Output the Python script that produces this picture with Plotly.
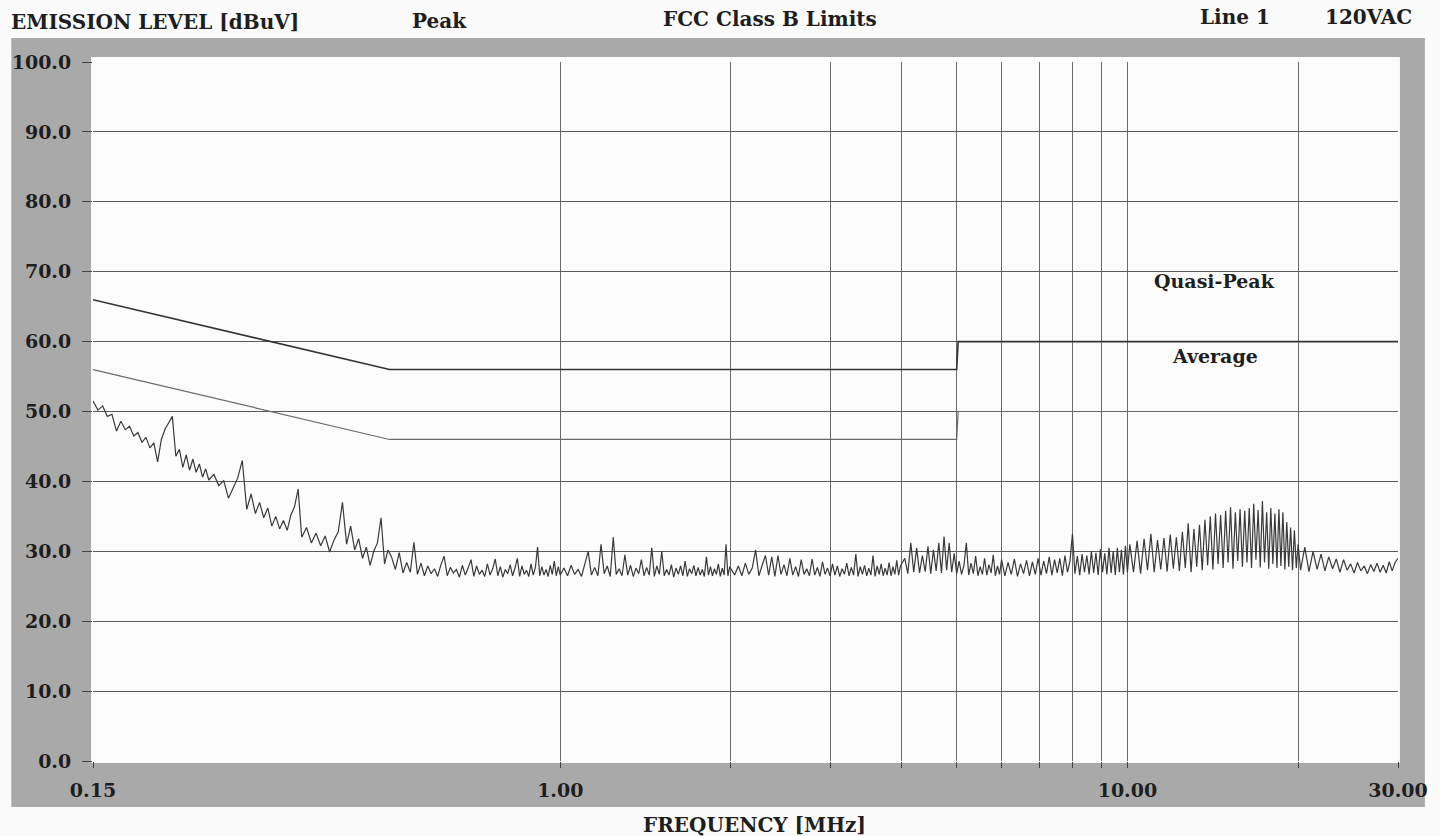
import math
import plotly.graph_objects as go

# ---------------- measured peak scan (MHz, dBuV) ----------------
freq_a = [0.150, 0.153, 0.156, 0.159, 0.162, 0.165, 0.168, 0.171, 0.174, 0.177,
          0.180, 0.183, 0.186, 0.189, 0.192, 0.195, 0.198, 0.201, 0.204, 0.207,
          0.210, 0.213, 0.216, 0.219, 0.222, 0.225, 0.228, 0.231, 0.234, 0.237,
          0.240, 0.245, 0.250, 0.255, 0.260, 0.265, 0.270, 0.275, 0.280, 0.285,
          0.290, 0.295, 0.300, 0.305, 0.310, 0.315, 0.320, 0.325, 0.330, 0.335,
          0.340, 0.345, 0.350, 0.357, 0.364, 0.371, 0.378, 0.385, 0.392, 0.399,
          0.406, 0.413, 0.420, 0.427, 0.434, 0.441, 0.448, 0.455, 0.462, 0.469,
          0.476, 0.483, 0.490, 0.497]
peak_a = [51.5, 50.2, 50.8, 49.3, 49.6, 47.2, 48.6, 47.4, 47.9, 46.5,
          47.0, 45.6, 46.3, 44.8, 45.5, 42.8, 46.0, 47.5, 48.4, 49.3,
          43.6, 44.6, 42.0, 43.8, 41.6, 43.2, 41.3, 42.5, 40.6, 41.8,
          40.2, 41.0, 39.4, 40.1, 37.6, 39.2, 40.5, 43.0, 36.0, 38.2,
          35.4, 37.0, 34.8, 36.2, 33.6, 35.0, 33.2, 34.4, 33.0, 35.2,
          36.4, 38.9, 32.0, 33.4, 31.2, 32.6, 30.8, 32.2, 29.9, 31.6,
          32.8, 37.0, 31.0, 33.6, 30.2, 31.8, 29.0, 30.6, 28.0, 30.0,
          31.2, 34.8, 28.2, 30.2]

freq_b1 = [0.504, 0.512, 0.520, 0.528, 0.536, 0.544, 0.552, 0.560, 0.568, 0.576,
           0.584, 0.592, 0.600, 0.608, 0.616, 0.624, 0.632, 0.640, 0.648, 0.656,
           0.664, 0.672, 0.680, 0.688, 0.696, 0.704, 0.712, 0.720, 0.728, 0.736,
           0.744, 0.752, 0.760, 0.768, 0.776, 0.784, 0.792, 0.800, 0.808, 0.816,
           0.824, 0.832, 0.840, 0.848, 0.856, 0.864, 0.872, 0.880, 0.888, 0.896,
           0.904, 0.912, 0.920, 0.928, 0.936, 0.944, 0.952, 0.960, 0.968, 0.976,
           0.984, 0.992, 1.000]
peak_b1 = [29.2, 27.4, 29.8, 26.9, 28.4, 27.0, 31.3, 26.7, 28.3, 26.5,
           27.9, 26.8, 27.5, 26.4, 28.1, 29.3, 26.5, 27.7, 26.9, 27.4,
           26.3, 28.0, 26.6, 27.6, 28.8, 26.4, 27.9, 26.7, 27.3, 26.4,
           28.2, 26.6, 27.5, 28.9, 26.5, 27.8, 26.3, 27.4, 26.8, 28.1,
           26.5, 27.6, 29.0, 26.4, 27.9, 26.7, 27.3, 26.4, 28.2, 26.6,
           27.7, 30.6, 26.5, 27.8, 26.6, 27.4, 26.4, 28.0, 26.7, 28.6,
           26.5, 27.8, 26.6]

freq_b2 = [1.015, 1.030, 1.045, 1.060, 1.075, 1.090, 1.105, 1.120, 1.135, 1.150,
           1.165, 1.180, 1.195, 1.210, 1.225, 1.240, 1.255, 1.270, 1.285, 1.300,
           1.315, 1.330, 1.345, 1.360, 1.375, 1.390, 1.405, 1.420, 1.435, 1.450,
           1.465, 1.480, 1.495, 1.510, 1.525, 1.540, 1.555, 1.570, 1.585, 1.600,
           1.615, 1.630, 1.645, 1.660, 1.675, 1.690, 1.705, 1.720, 1.735, 1.750,
           1.765, 1.780, 1.795, 1.810, 1.825, 1.840, 1.855, 1.870, 1.885, 1.900,
           1.915, 1.930, 1.945, 1.960, 1.975, 1.990]
peak_b2 = [27.6, 26.5, 28.0, 26.7, 27.4, 26.4, 28.2, 30.0, 26.6, 27.7,
           26.5, 31.0, 26.8, 27.9, 26.4, 32.0, 26.7, 27.5, 26.5, 29.5,
           26.6, 28.0, 26.4, 27.6, 26.8, 28.8, 26.5, 27.7, 26.6, 30.5,
           26.4, 27.9, 26.7, 30.0, 26.5, 27.4, 26.6, 28.1, 26.3, 27.6,
           26.7, 27.9, 26.5, 28.6, 26.4, 27.5, 26.8, 28.0, 26.5, 27.7,
           26.6, 27.4, 26.4, 29.2, 26.6, 27.8, 26.5, 27.5, 26.7, 28.2,
           26.4, 27.6, 26.6, 31.0, 26.5, 27.8]

freq_b3 = [2.03, 2.06, 2.09, 2.12, 2.15, 2.18, 2.21, 2.24, 2.27, 2.30,
           2.33, 2.36, 2.39, 2.42, 2.45, 2.48, 2.51, 2.54, 2.57, 2.60,
           2.63, 2.66, 2.69, 2.72, 2.75, 2.78, 2.81, 2.84, 2.87, 2.90,
           2.93, 2.96, 2.99, 3.02, 3.05, 3.08, 3.11, 3.14, 3.17, 3.20,
           3.23, 3.26, 3.29, 3.32, 3.35, 3.38, 3.41, 3.44, 3.47, 3.50,
           3.53, 3.56, 3.59, 3.62, 3.65, 3.68, 3.71, 3.74, 3.77, 3.80,
           3.83, 3.86, 3.89, 3.92, 3.95, 3.98]
peak_b3 = [26.6, 27.9, 26.5, 28.3, 26.7, 27.6, 30.2, 26.5, 28.0, 29.4,
           26.6, 29.2, 26.4, 29.4, 26.7, 28.1, 26.5, 29.0, 26.6, 27.8,
           26.4, 28.8, 26.7, 27.5, 26.5, 28.9, 26.6, 27.7, 26.4, 28.5,
           26.7, 27.6, 26.5, 28.2, 26.6, 27.9, 26.4, 27.5, 26.7, 28.3,
           26.5, 27.7, 26.6, 29.6, 26.4, 27.8, 26.7, 28.0, 26.5, 27.6,
           26.6, 29.4, 26.4, 27.9, 26.7, 28.2, 26.5, 27.6, 26.6, 28.4,
           26.5, 27.8, 26.7, 28.7, 26.6, 27.9]

freq_b4 = [4.05, 4.10, 4.15, 4.20, 4.25, 4.30, 4.35, 4.40, 4.45, 4.50,
           4.55, 4.60, 4.65, 4.70, 4.75, 4.80, 4.85, 4.90, 4.95, 5.00,
           5.05, 5.10, 5.15, 5.20, 5.25, 5.30, 5.35, 5.40, 5.45, 5.50,
           5.55, 5.60, 5.65, 5.70, 5.75, 5.80, 5.85, 5.90, 5.95, 6.00]
peak_b4 = [29.0, 26.8, 31.2, 27.0, 30.5, 26.9, 29.4, 27.1, 30.7, 26.8,
           30.2, 27.2, 31.2, 26.9, 32.1, 27.3, 31.2, 27.0, 29.7, 26.8,
           28.6, 26.7, 28.0, 31.2, 26.6, 28.3, 26.8, 29.3, 26.5, 27.8,
           26.7, 29.0, 26.6, 28.1, 26.9, 29.5, 26.5, 27.9, 26.7, 28.8]

freq_b5 = [6.08, 6.16, 6.24, 6.32, 6.40, 6.48, 6.56, 6.64, 6.72, 6.80,
           6.88, 6.96, 7.04, 7.12, 7.20, 7.28, 7.36, 7.44, 7.52, 7.60,
           7.68, 7.76, 7.84, 7.92, 8.00, 8.08, 8.16, 8.24, 8.32, 8.40,
           8.48, 8.56, 8.64, 8.72, 8.80, 8.88, 8.96, 9.04, 9.12, 9.20,
           9.28, 9.36, 9.44, 9.52, 9.60, 9.68, 9.76, 9.84, 9.92, 10.00]
peak_b5 = [26.5, 28.4, 26.7, 28.9, 26.4, 28.2, 26.8, 28.7, 26.5, 28.5,
           26.7, 29.0, 26.6, 28.6, 26.8, 29.2, 26.6, 28.8, 26.9, 29.0,
           26.5, 29.4, 27.0, 28.6, 32.5, 26.8, 29.3, 26.6, 29.6, 27.0,
           29.4, 26.7, 30.0, 26.9, 29.8, 26.6, 30.3, 27.0, 29.7, 26.7,
           30.5, 26.9, 30.0, 26.6, 30.5, 27.0, 30.2, 26.7, 30.8, 27.0]

freq_c1 = [10.10, 10.25, 10.40, 10.55, 10.70, 10.85, 11.00, 11.15, 11.30, 11.45,
           11.60, 11.75, 11.90, 12.05, 12.20, 12.35, 12.50, 12.65, 12.80, 12.95,
           13.10, 13.25, 13.40, 13.55, 13.70, 13.85, 14.00, 14.15, 14.30, 14.45,
           14.60, 14.75, 14.90, 15.05, 15.20, 15.35, 15.50, 15.65, 15.80, 15.95,
           16.10, 16.25, 16.40, 16.55, 16.70, 16.85, 17.00, 17.15, 17.30, 17.45,
           17.60, 17.75, 17.90, 18.05, 18.20, 18.35, 18.50, 18.65, 18.80, 18.95,
           19.10, 19.25, 19.40, 19.55, 19.70, 19.85, 20.00]
peak_c1 = [31.0, 27.0, 31.5, 26.8, 31.8, 27.3, 32.5, 27.0, 31.6, 27.4,
           31.9, 27.1, 32.4, 27.5, 32.0, 27.2, 32.8, 27.6, 34.0, 27.0,
           33.2, 27.8, 33.8, 27.3, 34.5, 28.0, 35.0, 27.4, 35.4, 28.2,
           35.2, 27.6, 35.8, 28.4, 36.3, 27.5, 35.6, 28.6, 36.0, 27.8,
           35.8, 28.4, 36.2, 27.6, 36.8, 28.8, 35.9, 27.7, 37.2, 28.4,
           35.6, 27.5, 36.2, 28.2, 35.4, 27.6, 36.0, 27.9, 35.6, 27.4,
           34.2, 27.8, 33.4, 27.3, 33.0, 27.6, 31.0]

freq_c2 = [20.20, 20.55, 20.90, 21.25, 21.60, 21.95, 22.30, 22.65, 23.00, 23.35,
           23.70, 24.05, 24.40, 24.75, 25.10, 25.45, 25.80, 26.15, 26.50, 26.85,
           27.20, 27.55, 27.90, 28.25, 28.60, 28.95, 29.30, 29.65, 30.00]
peak_c2 = [27.3, 30.6, 27.1, 30.0, 27.4, 29.6, 27.2, 29.2, 27.5, 28.9,
           27.0, 28.8, 27.3, 28.2, 26.9, 28.4, 27.2, 27.9, 26.8, 28.1,
           27.1, 28.3, 27.0, 28.0, 26.9, 28.5, 27.2, 28.4, 29.0]

# ---------------- FCC class B limits ----------------
qp_freq = [0.15, 0.5, 5.0, 5.03, 30.0]
qp_level = [66, 56, 56, 60, 60]
avg_freq = [0.15, 0.5, 5.0, 5.03, 30.0]
avg_level = [56, 46, 46, 50, 50]

# ---------------- axes ----------------
x_tickvals = [0.15, 1, 10, 30]
x_ticktext = ["0.15", "1.00", "10.00", "30.00"]
x_gridvals = [1, 2, 3, 4, 5, 6, 7, 8, 9, 10, 20]
y_tickvals = [0, 10, 20, 30, 40, 50, 60, 70, 80, 90, 100]
y_ticktext = ["0.0", "10.0", "20.0", "30.0", "40.0", "50.0", "60.0", "70.0", "80.0", "90.0", "100.0"]
y_gridvals = [10, 20, 30, 40, 50, 60, 70, 80, 90]

freq_parts = [freq_a, freq_b1, freq_b2, freq_b3, freq_b4, freq_b5, freq_c1, freq_c2]
peak_parts = [peak_a, peak_b1, peak_b2, peak_b3, peak_b4, peak_b5, peak_c1, peak_c2]
freq, peak = [], []
for fp, pp in zip(freq_parts, peak_parts):
    n = min(len(fp), len(pp))
    freq += fp[:n]
    peak += pp[:n]

FONT = "DejaVu Serif"
TXT = "#1e1e1e"

fig = go.Figure()
fig.add_trace(go.Scatter(x=freq, y=peak, mode="lines",
                         line=dict(color="#3a3a3a", width=1.2), hoverinfo="x+y"))
fig.add_trace(go.Scatter(x=qp_freq, y=qp_level, mode="lines",
                         line=dict(color="#333333", width=1.6)))
fig.add_trace(go.Scatter(x=avg_freq, y=avg_level, mode="lines",
                         line=dict(color="#6a6a6a", width=1.2)))

fig.update_xaxes(type="log", range=[math.log10(0.15), math.log10(30)],
                 tickmode="array", tickvals=x_tickvals, ticktext=x_ticktext,
                 showgrid=False, zeroline=False, showline=False,
                 ticks="outside", ticklen=6, tickcolor="#444", tickwidth=1,
                 ticklabelstandoff=6,
                 tickfont=dict(family=FONT, size=19, color=TXT, weight="bold"),
                 minor=dict(tickmode="array", tickvals=x_gridvals, showgrid=True,
                            gridcolor="#6a6a6a", gridwidth=1, ticks="outside",
                            ticklen=6, tickcolor="#444"))
fig.update_yaxes(range=[0, 100], tickmode="array", tickvals=y_tickvals, ticktext=y_ticktext,
                 showgrid=False, zeroline=False, showline=False,
                 ticks="outside", ticklen=10, tickcolor="#444", tickwidth=1,
                 ticklabelstandoff=7,
                 tickfont=dict(family=FONT, size=19, color=TXT, weight="bold"),
                 minor=dict(tickmode="array", tickvals=y_gridvals, showgrid=True,
                            gridcolor="#5a5a5a", gridwidth=1.2, ticks=""))

shapes = [
    dict(type="rect", xref="paper", yref="paper", x0=-0.0626, x1=1.0206, y0=-0.0658, y1=1.0343,
         fillcolor="#a9a9a9", line=dict(width=0), layer="below"),
    dict(type="rect", xref="paper", yref="paper", x0=-0.0015, x1=1.0015, y0=-0.0029, y1=1.0072,
         fillcolor="#fcfcfc", line=dict(width=0), layer="below"),
]

def ann(text, x, y, xanchor="center", size=20):
    return dict(text=text, x=x, y=y, xref="paper", yref="paper", xanchor=xanchor,
                yanchor="middle", showarrow=False,
                font=dict(family=FONT, size=size, color=TXT, weight="bold"))

annotations = [
    ann("EMISSION LEVEL [dBuV]", -0.0641, 1.0572, xanchor="left"),
    ann("Peak", 0.2656, 1.0587),
    ann("FCC Class B Limits", 0.5191, 1.0615),
    ann("Line 1", 0.8748, 1.0644),
    ann("120VAC", 0.9771, 1.0644),
    ann("FREQUENCY [MHz]", 0.5069, -0.0916),
    ann("Quasi-Peak", 0.8595, 0.6867, size=19),
    ann("Average", 0.8595, 0.58, size=19),
]

fig.update_layout(width=1440, height=836, showlegend=False,
                  margin=dict(l=92, r=38, t=62, b=75),
                  paper_bgcolor="#fbfbfb", plot_bgcolor="rgba(0,0,0,0)",
                  shapes=shapes, annotations=annotations)

fig.write_html("out.html", config={"displayModeBar": False},
               post_script="document.body.style.margin='0';document.body.style.overflow='hidden';")
